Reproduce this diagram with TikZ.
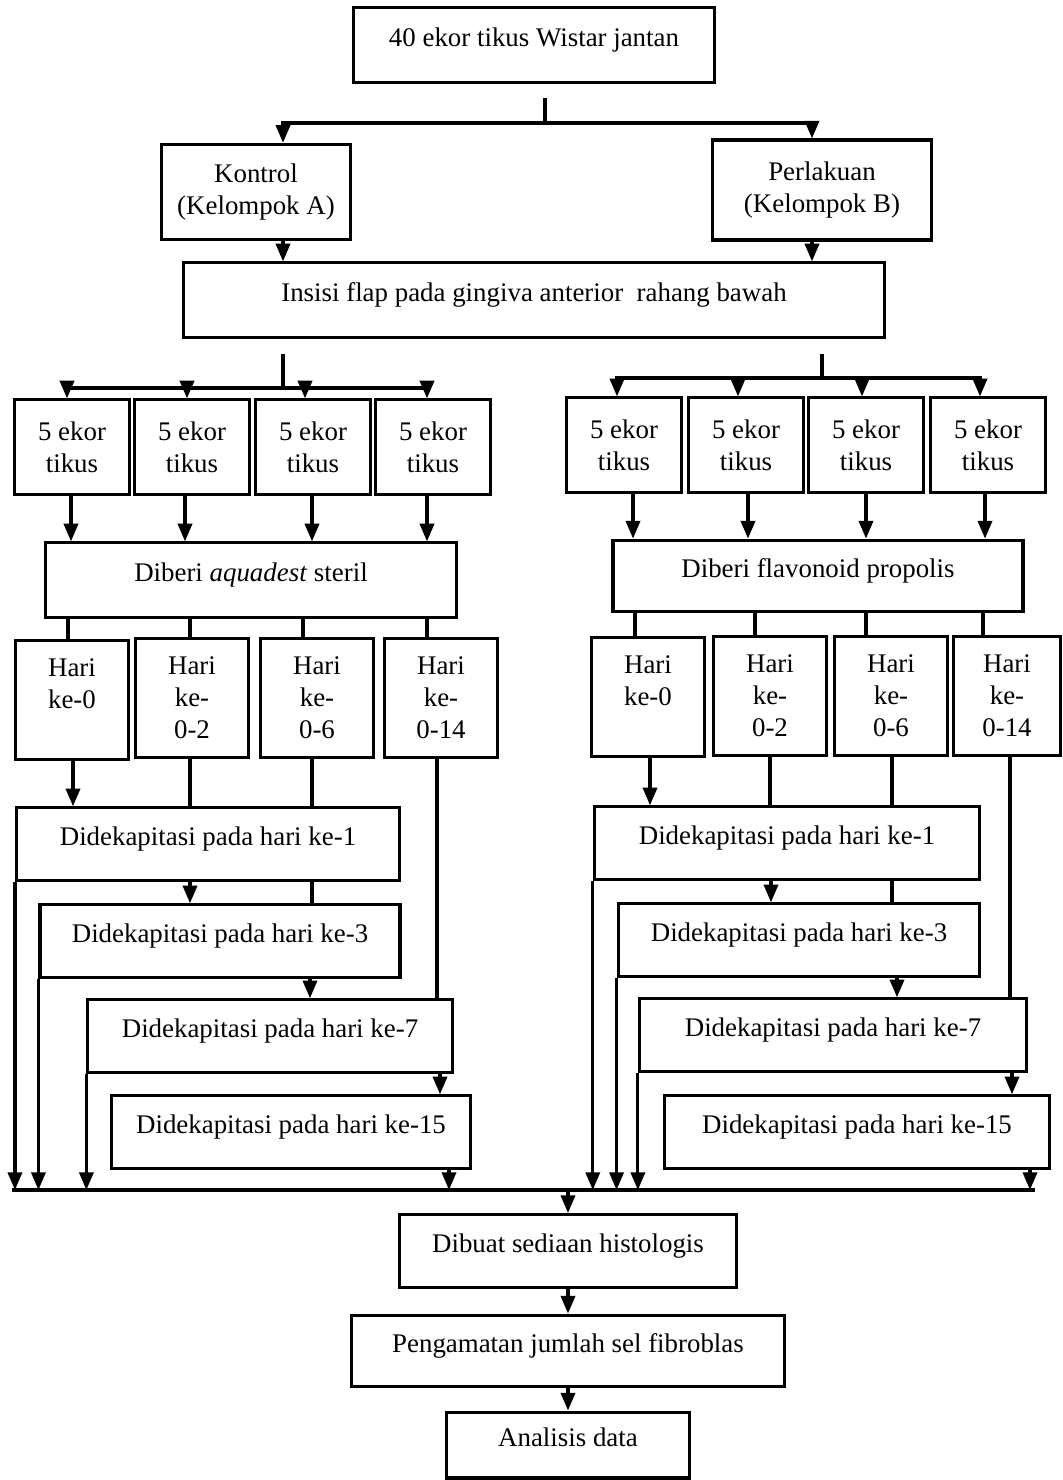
\documentclass[tikz,border=0pt]{standalone}
\usepackage{fontspec}
\setmainfont{Liberation Serif}
\usetikzlibrary{arrows.meta,positioning}

\begin{document}
\begin{tikzpicture}[x=0.017cm,y=-0.017cm,
  box/.style={draw,line width=1.5pt,align=center,inner sep=0pt,font=\fontsize{13}{15.5}\selectfont},
  lift/.style={text depth=#1},
  tik/.style={box,minimum width=1.95cm,minimum height=1.6cm},
  hari/.style={box,minimum width=1.93cm,minimum height=2.03cm},
  dek/.style={box,lift=8pt,minimum height=1.23cm},
  ln/.style={line width=1.5pt},
  arr/.style={line width=1.5pt,-{Triangle[length=3mm,width=2.4mm]}}]

\useasboundingbox (0,0) rectangle (1063,1480);

% Top rows
\node[box,lift=8pt,minimum width=6.15cm,minimum height=1.26cm] (top) at (534,45) {40 ekor tikus Wistar jantan};
\node[box,minimum width=3.2cm,minimum height=1.62cm] (kon) at (256,192) {Kontrol\\(Kelompok A)};
\node[box,minimum width=3.72cm,minimum height=1.7cm] (per) at (822,190) {Perlakuan\\(Kelompok B)};
\node[box,lift=8pt,minimum width=11.93cm,minimum height=1.26cm] (ins) at (534,300) {Insisi flap pada gingiva anterior\ \ rahang bawah};

% Groups of rats
\node[tik] (tA1) at (72,447) {5 ekor\\tikus};
\node[tik] (tA2) at (192,447) {5 ekor\\tikus};
\node[tik] (tA3) at (313,447) {5 ekor\\tikus};
\node[tik] (tA4) at (433,447) {5 ekor\\tikus};
\node[tik] (tB1) at (624,445) {5 ekor\\tikus};
\node[tik] (tB2) at (746,445) {5 ekor\\tikus};
\node[tik] (tB3) at (866,445) {5 ekor\\tikus};
\node[tik] (tB4) at (988,445) {5 ekor\\tikus};

% Treatment
\node[box,lift=8pt,minimum width=7cm,minimum height=1.26cm] (aqu) at (251,580) {Diberi \textit{aquadest} steril};
\node[box,lift=8pt,minimum width=6.97cm,minimum height=1.22cm] (fla) at (818,576) {Diberi flavonoid propolis};

% Days
\node[hari,lift=16pt] (hA1) at (72,700) {Hari\\ke-0};
\node[hari] (hA2) at (192,698) {Hari\\ke-\\0-2};
\node[hari] (hA3) at (317,698) {Hari\\ke-\\0-6};
\node[hari] (hA4) at (441,698) {Hari\\ke-\\0-14};
\node[hari,lift=16pt] (hB1) at (648,697) {Hari\\ke-0};
\node[hari] (hB2) at (770,696) {Hari\\ke-\\0-2};
\node[hari] (hB3) at (891,696) {Hari\\ke-\\0-6};
\node[hari,minimum width=1.82cm] (hB4) at (1007,696) {Hari\\ke-\\0-14};

% Decapitation
\node[dek,minimum width=6.51cm] (dA1) at (208,844) {Didekapitasi pada hari ke-1};
\node[dek,minimum width=6.12cm] (dA3) at (220,941) {Didekapitasi pada hari ke-3};
\node[dek,minimum width=6.19cm] (dA7) at (270,1036) {Didekapitasi pada hari ke-7};
\node[dek,minimum width=6.09cm] (dA15) at (291,1132) {Didekapitasi pada hari ke-15};
\node[dek,minimum width=6.55cm] (dB1) at (787,843) {Didekapitasi pada hari ke-1};
\node[dek,minimum width=6.15cm] (dB3) at (799,940) {Didekapitasi pada hari ke-3};
\node[dek,minimum width=6.58cm] (dB7) at (833,1035) {Didekapitasi pada hari ke-7};
\node[dek,minimum width=6.55cm] (dB15) at (857,1132) {Didekapitasi pada hari ke-15};

% Final steps
\node[box,lift=8pt,minimum width=5.73cm,minimum height=1.24cm] (hist) at (568,1251) {Dibuat sediaan histologis};
\node[box,lift=8pt,minimum width=7.36cm,minimum height=1.22cm] (amat) at (568,1351) {Pengamatan jumlah sel fibroblas};
\node[box,lift=8pt,minimum width=4.13cm,minimum height=1.12cm] (anal) at (568,1445) {Analisis data};

% Junctions
\coordinate (jt) at (545,123);
\coordinate (jl) at (283,388);
\coordinate (jr) at (822,378);
\coordinate (bus) at (568,1190);

% Split into groups
\draw[ln] (top.south -| jt) ++(0,14) -- (jt);
\draw[arr] (jt) -| (kon.north -| 283,0);
\draw[arr] (jt) -| (per.north -| 812,0);
\draw[arr] (kon.south -| 283,0) -- (ins.north -| 283,0);
\draw[arr] (per.south -| 812,0) -- (ins.north -| 812,0);

\draw[ln] (ins.south -| jl) ++(0,15) -- (jl);
\draw[ln] (ins.south -| jr) ++(0,15) -- (jr);
\draw[arr] (jl) -| (tA1.north -| 67,0);
\draw[arr] (jl) -| (tA2.north -| 187,0);
\draw[arr] (jl) -| (tA3.north -| 305,0);
\draw[arr] (jl) -| (tA4.north -| 427,0);
\draw[arr] (jr) -| (tB1.north -| 617,0);
\draw[arr] (jr) -| (tB2.north -| 738,0);
\draw[arr] (jr) -| (tB3.north -| 862,0);
\draw[arr] (jr) -| (tB4.north -| 980,0);

% Rats to treatment
\draw[arr] (tA1.south -| 71,0) -- (aqu.north -| 71,0);
\draw[arr] (tA2.south -| 185,0) -- (aqu.north -| 185,0);
\draw[arr] (tA3.south -| 312,0) -- (aqu.north -| 312,0);
\draw[arr] (tA4.south -| 427,0) -- (aqu.north -| 427,0);
\draw[arr] (tB1.south -| 633,0) -- (fla.north -| 633,0);
\draw[arr] (tB2.south -| 748,0) -- (fla.north -| 748,0);
\draw[arr] (tB3.south -| 866,0) -- (fla.north -| 866,0);
\draw[arr] (tB4.south -| 985,0) -- (fla.north -| 985,0);

% Treatment to days
\draw[ln] (aqu.south -| 68,0) -- (hA1.north -| 68,0);
\draw[ln] (aqu.south -| 190,0) -- (hA2.north -| 190,0);
\draw[ln] (aqu.south -| 303,0) -- (hA3.north -| 303,0);
\draw[ln] (aqu.south -| 427,0) -- (hA4.north -| 427,0);
\draw[ln] (fla.south -| 635,0) -- (hB1.north -| 635,0);
\draw[ln] (fla.south -| 755,0) -- (hB2.north -| 755,0);
\draw[ln] (fla.south -| 866,0) -- (hB3.north -| 866,0);
\draw[ln] (fla.south -| 983,0) -- (hB4.north -| 983,0);

% Days to decapitation, left
\draw[arr] (hA1.south -| 73,0) -- (dA1.north -| 73,0);
\draw[ln] (hA2.south -| 190,0) -- (dA1.north -| 190,0);
\draw[arr] (dA1.south -| 190,0) -- (dA3.north -| 190,0);
\draw[ln] (hA3.south -| 312,0) -- (dA1.north -| 312,0);
\draw[ln] (dA1.south -| 312,0) -- (dA3.north -| 312,0);
\draw[arr] (dA3.south -| 310,0) -- (dA7.north -| 310,0);
\draw[ln] (hA4.south -| 437,0) -- (dA7.north -| 437,0);
\draw[arr] (dA7.south -| 440,0) -- (dA15.north -| 440,0);

% Days to decapitation, right
\draw[arr] (hB1.south -| 650,0) -- (dB1.north -| 650,0);
\draw[ln] (hB2.south -| 770,0) -- (dB1.north -| 770,0);
\draw[arr] (dB1.south -| 771,0) -- (dB3.north -| 771,0);
\draw[ln] (hB3.south -| 892,0) -- (dB1.north -| 892,0);
\draw[ln] (dB1.south -| 892,0) -- (dB3.north -| 892,0);
\draw[arr] (dB3.south -| 897,0) -- (dB7.north -| 897,0);
\draw[ln] (hB4.south -| 1010,0) -- (dB7.north -| 1010,0);
\draw[arr] (dB7.south -| 1012,0) -- (dB15.north -| 1012,0);

% Collecting line
\draw[ln] (bus -| 12,0) -- (bus -| 1035,0);
\draw[arr] (dA1.south west) -- (bus -| dA1.south west);
\draw[arr] (dA3.south west) -- (bus -| dA3.south west);
\draw[arr] (dA7.south west) -- (bus -| dA7.south west);
\draw[arr] (dA15.south -| 449,0) -- (bus -| 449,0);
\draw[arr] (dB1.south west) -- (bus -| dB1.south west);
\draw[arr] (dB3.south west) -- (bus -| dB3.south west);
\draw[arr] (dB7.south west) -- (bus -| dB7.south west);
\draw[arr] (dB15.south -| 1030,0) -- (bus -| 1030,0);

% Final
\draw[arr] (bus) -- (hist.north);
\draw[arr] (hist.south) -- (amat.north);
\draw[arr] (amat.south) -- (anal.north);

\end{tikzpicture}
\end{document}
